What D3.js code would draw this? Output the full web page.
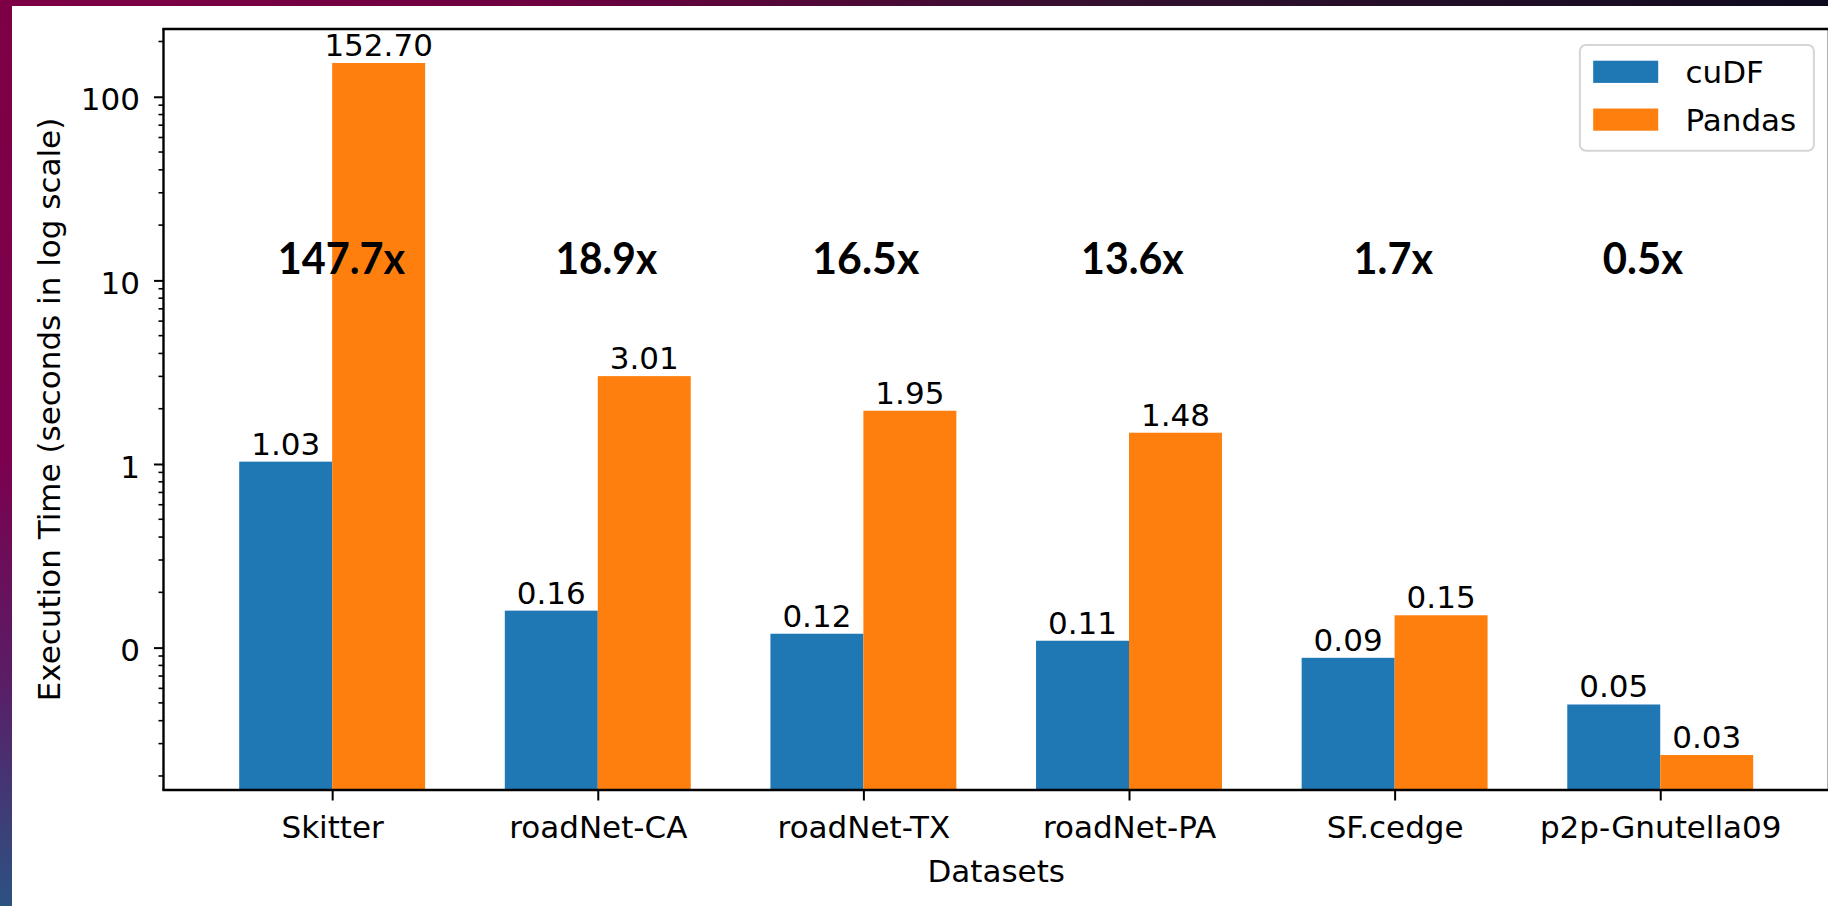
<!DOCTYPE html>
<html><head><meta charset="utf-8">
<script src="https://cdn.jsdelivr.net/npm/d3@7"></script>
<style>html,body{margin:0;padding:0;background:#0e0a1e;overflow:hidden}</style>
</head><body><svg id="c" width="1828" height="906"></svg>
<script>
// ---------- data ----------
const categories = ["Skitter","roadNet-CA","roadNet-TX","roadNet-PA","SF.cedge","p2p-Gnutella09"];
const seriesNames = ["cuDF","Pandas"];
const cudfTimes = [1.03,0.159,0.119,0.109,0.088,0.049];
const pandasTimes = [152.70,3.01,1.95,1.48,0.15,0.026];
const speedups = ["147.7x","18.9x","16.5x","13.6x","1.7x","0.5x"];
const speedupPos = [0.035,0.032,0.009,0.013,-0.005,-0.065]; // offsets in category units
const speedupLevel = 10.9;
const yTickValues = [0.1,1,10,100];
const yTickLabels = ["0","1","10","100"];
const xLabel = "Datasets";
const yLabel = "Execution Time (seconds in log scale)";

// ---------- layout ----------
const W = 1828, H = 906;
const L = 163.5, R = 1828.9, T = 29, B = 790;
const barW = 0.35;
const colors = ["#1f77b4","#ff7f0e"];
const FONT = "'DejaVu Sans', sans-serif";
const FS = 31;
const speedupWidths = [127.5,101.8,107,102.7,79.4,80.3];

const svg = d3.select("#c");
const defs = svg.append("defs");
const gl = defs.append("linearGradient").attr("id","gl").attr("x1",0).attr("y1",0).attr("x2",0).attr("y2",1);
[[0,"#7e0044"],[0.5,"#7c004e"],[0.75,"#5a1d66"],[1,"#2c5282"]].forEach(s=>gl.append("stop").attr("offset",s[0]).attr("stop-color",s[1]));
const gt = defs.append("linearGradient").attr("id","gt").attr("x1",0).attr("y1",0).attr("x2",1).attr("y2",0);
[[0,"#7e0044"],[0.3,"#6c0040"],[0.6,"#34102e"],[1,"#0e0a1e"]].forEach(s=>gt.append("stop").attr("offset",s[0]).attr("stop-color",s[1]));
svg.append("rect").attr("x",0).attr("y",0).attr("width",W).attr("height",6).attr("fill","url(#gt)");
svg.append("rect").attr("x",0).attr("y",0).attr("width",12).attr("height",H).attr("fill","url(#gl)");
svg.append("rect").attr("x",12).attr("y",6).attr("width",W-12).attr("height",H-6).attr("fill","#ffffff");

const x = d3.scaleLinear().domain([-0.635, categories.length - 1 + 0.635]).range([L, R]);
const y = d3.scaleLog().domain([0.01677, 233.9]).range([B, T]);

const series = [cudfTimes, pandasTimes];
const bw = x(barW) - x(0);
series.forEach((vals, si) => {
  const off = si === 0 ? -barW/2 : barW/2;
  const g = svg.append("g");
  g.selectAll("rect").data(vals).join("rect")
    .attr("x", (d,i) => x(i + off) - bw/2)
    .attr("width", bw)
    .attr("y", d => y(d))
    .attr("height", d => B - y(d))
    .attr("fill", colors[si]);
  g.selectAll("text").data(vals).join("text")
    .attr("x", (d,i) => x(i + off))
    .attr("y", d => y(d) - 7)
    .attr("text-anchor","middle")
    .attr("font-family", FONT).attr("font-size", FS).attr("fill","#000")
    .text(d => d.toFixed(2));
});

// y axis
const yAxis = d3.axisLeft(y).tickValues(yTickValues)
  .tickFormat((d,i) => yTickLabels[i]).tickSize(9.5).tickPadding(14).tickSizeOuter(0);
const ya = svg.append("g").attr("transform",`translate(${L},0)`).call(yAxis);
ya.select(".domain").remove();
ya.selectAll(".tick line").attr("stroke","#000").attr("stroke-width",2);
ya.selectAll(".tick text").attr("font-family",FONT).attr("font-size",FS).attr("fill","#000").attr("dy","0.42em");

const minor = [];
for (let e = -2; e <= 2; e++) for (let m = 2; m <= 9; m++) {
  const v = m * Math.pow(10, e);
  if (v >= y.domain()[0] && v <= y.domain()[1]) minor.push(v);
}
svg.append("g").selectAll("line").data(minor).join("line")
  .attr("x1", L - 5).attr("x2", L).attr("y1", d => y(d)).attr("y2", d => y(d))
  .attr("stroke","#000").attr("stroke-width",1.6);

// x axis
const xAxis = d3.axisBottom(x).tickValues(d3.range(categories.length))
  .tickFormat(i => categories[i]).tickSize(10.5).tickPadding(15.5).tickSizeOuter(0);
const xa = svg.append("g").attr("transform",`translate(0,${B})`).call(xAxis);
xa.select(".domain").remove();
xa.selectAll(".tick line").attr("stroke","#000").attr("stroke-width",2);
xa.selectAll(".tick text").attr("font-family",FONT).attr("font-size",FS).attr("fill","#000");

// spines
const sp = svg.append("g").attr("stroke","#000").attr("stroke-width",2.4).attr("fill","none");
sp.append("line").attr("x1",L).attr("x2",L).attr("y1",T).attr("y2",B);
sp.append("line").attr("x1",L-1.2).attr("x2",R).attr("y1",T).attr("y2",T);
sp.append("line").attr("x1",L-1.2).attr("x2",R).attr("y1",B).attr("y2",B);
sp.append("line").attr("x1",R).attr("x2",R).attr("y1",T).attr("y2",B);

// axis labels
svg.append("text").attr("x",(L+R)/2).attr("y",881.5).attr("text-anchor","middle")
  .attr("font-family",FONT).attr("font-size",FS).attr("fill","#000").text(xLabel);
svg.append("text").attr("transform",`translate(60,${(T+B)/2}) rotate(-90)`).attr("text-anchor","middle")
  .attr("font-family",FONT).attr("font-size",FS).attr("fill","#000").text(yLabel);

// speedup annotations
svg.append("g").selectAll("text").data(speedups).join("text")
  .attr("x",(d,i) => x(i + speedupPos[i]))
  .attr("y", y(speedupLevel))
  .attr("text-anchor","middle")
  .attr("font-family","Lato, 'Open Sans', sans-serif").attr("font-weight",700).attr("font-size",43)
  .attr("textLength",(d,i) => speedupWidths[i]).attr("lengthAdjust","spacingAndGlyphs")
  .attr("fill","#000").text(d => d);

// legend
const lg = svg.append("g").attr("transform",`translate(${R-15-234},${T+16})`);
lg.append("rect").attr("width",234).attr("height",105.7).attr("rx",6)
  .attr("fill","#fff").attr("fill-opacity",0.8).attr("stroke","#d5d5d5").attr("stroke-width",2);
seriesNames.forEach((n,i) => {
  lg.append("rect").attr("x",13.3).attr("y",15.7 + i*47.8).attr("width",65).attr("height",22.2).attr("fill",colors[i]);
  lg.append("text").attr("x",105.6).attr("y",37.7 + i*48).attr("font-family",FONT).attr("font-size",FS).attr("fill","#000").text(n);
});
</script></body></html>
